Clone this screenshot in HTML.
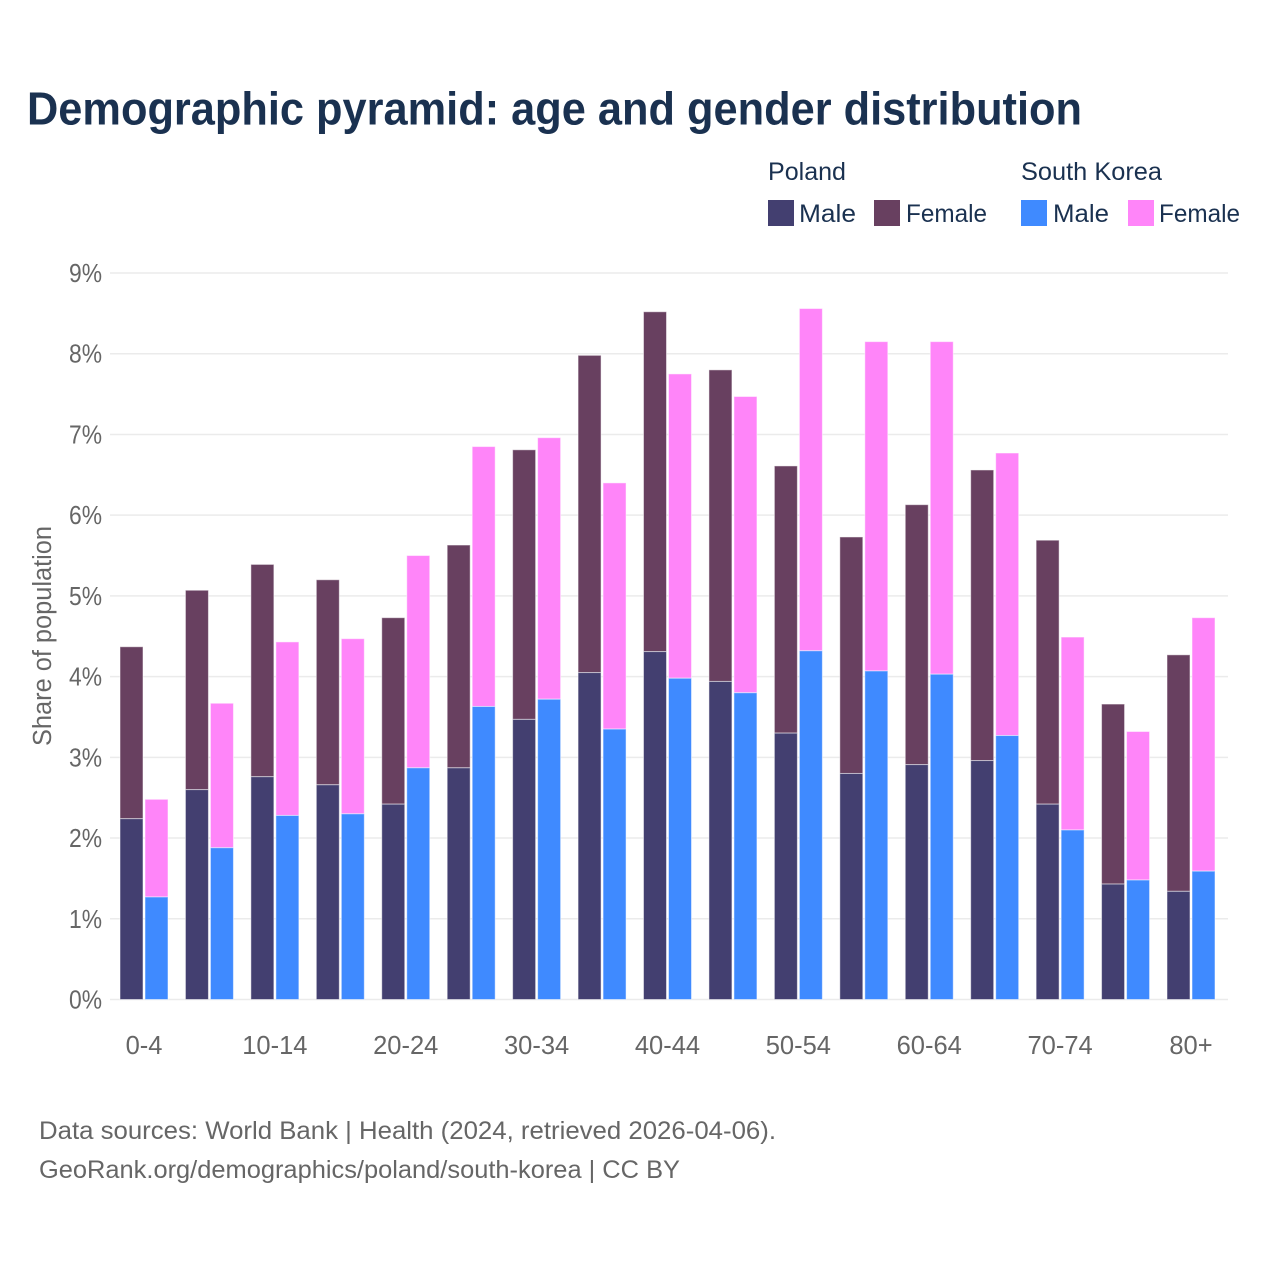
<!DOCTYPE html>
<html lang="en">
<head>
<meta charset="utf-8">
<title>Demographic pyramid: age and gender distribution</title>
<style>
  html, body { margin: 0; padding: 0; background: #ffffff; }
  svg { display: block; font-family: "Liberation Sans", sans-serif; }
  .title { font-size: 46px; font-weight: 700; fill: #1a3150; }
  .legend-text { font-size: 25px; fill: #1a3150; }
  .tick { font-size: 25.5px; fill: #666666; }
  .foot { font-size: 25px; fill: #666666; }
</style>
</head>
<body>
<svg id="chart" xmlns="http://www.w3.org/2000/svg" width="1280" height="1280" viewBox="0 0 1280 1280">
  <rect x="0" y="0" width="1280" height="1280" fill="#ffffff"/>
  <text class="title" x="27" y="124.5" textLength="1055" lengthAdjust="spacingAndGlyphs">Demographic pyramid: age and gender distribution</text>

  <g>
    <text class="legend-text" x="768" y="180" textLength="78" lengthAdjust="spacingAndGlyphs">Poland</text>
    <text class="legend-text" x="1021" y="180" textLength="141" lengthAdjust="spacingAndGlyphs">South Korea</text>
    <rect x="768" y="200" width="26" height="26" fill="#433f70"/>
    <text class="legend-text" x="799" y="222" textLength="57" lengthAdjust="spacingAndGlyphs">Male</text>
    <rect x="874" y="200" width="26" height="26" fill="#684060"/>
    <text class="legend-text" x="906" y="222" textLength="81" lengthAdjust="spacingAndGlyphs">Female</text>
    <rect x="1021" y="200" width="26" height="26" fill="#3f8aff"/>
    <text class="legend-text" x="1053" y="222" textLength="56" lengthAdjust="spacingAndGlyphs">Male</text>
    <rect x="1128" y="200" width="26" height="26" fill="#ff85f9"/>
    <text class="legend-text" x="1159" y="222" textLength="81" lengthAdjust="spacingAndGlyphs">Female</text>
  </g>

  <g id="grid"></g>
  <g id="bars"></g>
  <g id="yticks"></g>
  <g id="xticks"></g>

  <text class="tick" transform="translate(51 636) rotate(-90)" text-anchor="middle" textLength="220" lengthAdjust="spacingAndGlyphs">Share of population</text>

  <text class="foot" x="39" y="1139" textLength="737" lengthAdjust="spacingAndGlyphs">Data sources: World Bank | Health (2024, retrieved 2026-04-06).</text>
  <text class="foot" x="39" y="1178" textLength="641" lengthAdjust="spacingAndGlyphs">GeoRank.org/demographics/poland/south-korea | CC BY</text>
</svg>

<script>
const categories = ["0-4","5-9","10-14","15-19","20-24","25-29","30-34","35-39","40-44","45-49","50-54","55-59","60-64","65-69","70-74","75-79","80+"];
const polandMale = [2.24,2.60,2.76,2.66,2.42,2.87,3.47,4.05,4.31,3.94,3.30,2.80,2.91,2.96,2.42,1.43,1.34];
const polandFemale = [2.13,2.47,2.63,2.54,2.31,2.76,3.34,3.93,4.21,3.86,3.31,2.93,3.22,3.60,3.27,2.23,2.93];
const koreaMale = [1.27,1.88,2.28,2.30,2.87,3.63,3.72,3.35,3.98,3.80,4.32,4.07,4.03,3.27,2.10,1.48,1.59];
const koreaFemale = [1.21,1.79,2.15,2.17,2.63,3.22,3.24,3.05,3.77,3.67,4.24,4.08,4.12,3.50,2.39,1.84,3.14];
const yTickValues = [0,1,2,3,4,5,6,7,8,9];
const xTickLabels = ["0-4","10-14","20-24","30-34","40-44","50-54","60-64","70-74","80+"];

const SVG_NS = "http://www.w3.org/2000/svg";
const plotLeft = 110, plotRight = 1228, plotBottom = 999.5, plotTop = 273;
const yMax = 9;
const firstCenter = 144, bandStep = (1191 - 144) / (categories.length - 1);
const barWidth = 23, barGap = 2;

function yScale(v) { return plotBottom - (v / yMax) * (plotBottom - plotTop); }
function xCenter(label) { return firstCenter + categories.indexOf(label) * bandStep; }

const gridGroup = document.getElementById("grid");
const barGroup = document.getElementById("bars");
const yGroup = document.getElementById("yticks");
const xGroup = document.getElementById("xticks");

yTickValues.forEach(function (v) {
  const line = document.createElementNS(SVG_NS, "line");
  
  
  line.setAttribute("x1", plotLeft);
  line.setAttribute("x2", plotRight);
  line.setAttribute("y1", yScale(v));
  line.setAttribute("y2", yScale(v));
  line.setAttribute("stroke", "#ebebeb");
  line.setAttribute("stroke-width", "1.5");
  gridGroup.appendChild(line);

  const label = document.createElementNS(SVG_NS, "text");
  
  
  label.setAttribute("class", "tick");
  label.setAttribute("x", 102);
  label.setAttribute("y", yScale(v) + 9);
  label.setAttribute("text-anchor", "end");
  label.setAttribute("textLength", 33);
  label.setAttribute("lengthAdjust", "spacingAndGlyphs");
  label.textContent = v + "%";
  yGroup.appendChild(label);
});

xTickLabels.forEach(function (t) {
  const label = document.createElementNS(SVG_NS, "text");
  
  
  label.setAttribute("class", "tick");
  label.setAttribute("x", xCenter(t));
  label.setAttribute("y", 1054);
  label.setAttribute("text-anchor", "middle");
  label.textContent = t;
  xGroup.appendChild(label);
});

function drawBar(name, x, v0, v1, color) {
  const rect = document.createElementNS(SVG_NS, "rect");
  
  
  rect.setAttribute("x", x);
  rect.setAttribute("y", yScale(v1));
  rect.setAttribute("width", barWidth);
  rect.setAttribute("height", yScale(v0) - yScale(v1));
  rect.setAttribute("fill", color);
  rect.setAttribute("stroke", "#ffffff");
  rect.setAttribute("stroke-opacity", "0.5");
  rect.setAttribute("stroke-width", "1");
  barGroup.appendChild(rect);
}

categories.forEach(function (c, i) {
  const center = xCenter(c);
  const leftX = center - barGap / 2 - barWidth;
  const rightX = center + barGap / 2;
  drawBar('bar-poland-female-' + c, leftX, polandMale[i], polandMale[i] + polandFemale[i], "#684060");
  drawBar('bar-poland-male-' + c, leftX, 0, polandMale[i], "#433f70");
  drawBar('bar-south-korea-female-' + c, rightX, koreaMale[i], koreaMale[i] + koreaFemale[i], "#ff85f9");
  drawBar('bar-south-korea-male-' + c, rightX, 0, koreaMale[i], "#3f8aff");
});
</script>
</body>
</html>
